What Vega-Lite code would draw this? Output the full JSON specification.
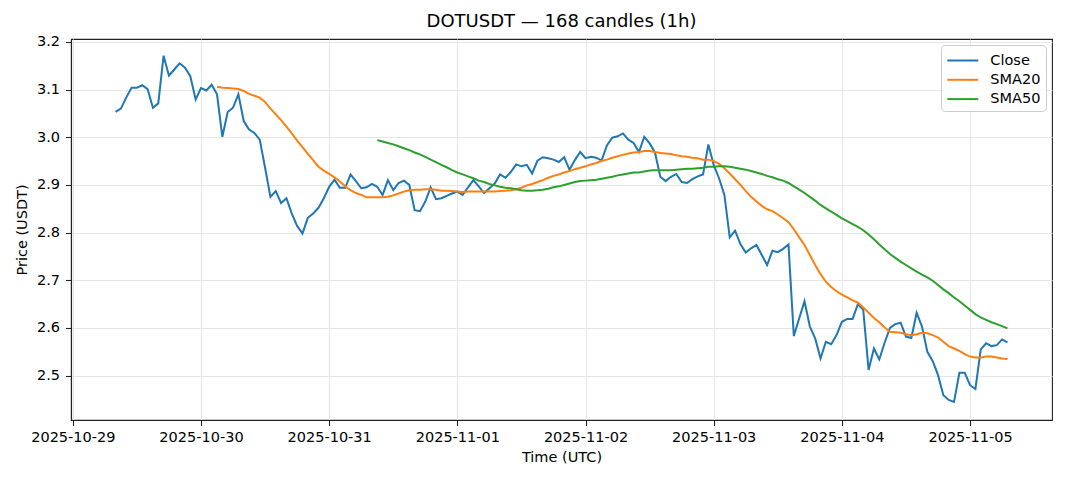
{
"$schema": "https://vega.github.io/schema/vega-lite/v6.json",
"width": 981, "height": 381,
"autosize": {"type": "none"},
"padding": {"left": 71, "top": 39, "right": 16, "bottom": 61},
"background": "white",
"title": {"text": "DOTUSDT — 168 candles (1h)", "font": "DejaVu Sans", "fontSize": 18, "fontWeight": "normal", "color": "#000", "offset": 3},
"config": {
 "view": {"stroke": "#222", "strokeWidth": 1.1},
 "axis": {"labelFont": "DejaVu Sans", "labelFontSize": 14.5, "labelColor": "#000", "titleFont": "DejaVu Sans", "titleFontSize": 14.5, "titleFontWeight": "normal", "titleColor": "#000", "tickColor": "#222", "tickSize": 5.5, "tickWidth": 1.1, "domainColor": "#222", "domainWidth": 1.1, "gridColor": "#e6e6e6", "gridWidth": 1.1, "labelPadding": 4}
},
"data": {"values": [
{"t":"2025-10-29T08:00:00Z","Close":3.053},
{"t":"2025-10-29T09:00:00Z","Close":3.060},
{"t":"2025-10-29T10:00:00Z","Close":3.083},
{"t":"2025-10-29T11:00:00Z","Close":3.104},
{"t":"2025-10-29T12:00:00Z","Close":3.104},
{"t":"2025-10-29T13:00:00Z","Close":3.109},
{"t":"2025-10-29T14:00:00Z","Close":3.101},
{"t":"2025-10-29T15:00:00Z","Close":3.062},
{"t":"2025-10-29T16:00:00Z","Close":3.071},
{"t":"2025-10-29T17:00:00Z","Close":3.171},
{"t":"2025-10-29T18:00:00Z","Close":3.129},
{"t":"2025-10-29T19:00:00Z","Close":3.142},
{"t":"2025-10-29T20:00:00Z","Close":3.155},
{"t":"2025-10-29T21:00:00Z","Close":3.146},
{"t":"2025-10-29T22:00:00Z","Close":3.128},
{"t":"2025-10-29T23:00:00Z","Close":3.079},
{"t":"2025-10-30T00:00:00Z","Close":3.103},
{"t":"2025-10-30T01:00:00Z","Close":3.098},
{"t":"2025-10-30T02:00:00Z","Close":3.110},
{"t":"2025-10-30T03:00:00Z","Close":3.090,"SMA20":3.106},
{"t":"2025-10-30T04:00:00Z","Close":3.001,"SMA20":3.104},
{"t":"2025-10-30T05:00:00Z","Close":3.053,"SMA20":3.103},
{"t":"2025-10-30T06:00:00Z","Close":3.062,"SMA20":3.102},
{"t":"2025-10-30T07:00:00Z","Close":3.090,"SMA20":3.101},
{"t":"2025-10-30T08:00:00Z","Close":3.034,"SMA20":3.097},
{"t":"2025-10-30T09:00:00Z","Close":3.016,"SMA20":3.091},
{"t":"2025-10-30T10:00:00Z","Close":3.009,"SMA20":3.087},
{"t":"2025-10-30T11:00:00Z","Close":2.995,"SMA20":3.083},
{"t":"2025-10-30T12:00:00Z","Close":2.936,"SMA20":3.074},
{"t":"2025-10-30T13:00:00Z","Close":2.875,"SMA20":3.060},
{"t":"2025-10-30T14:00:00Z","Close":2.887,"SMA20":3.048},
{"t":"2025-10-30T15:00:00Z","Close":2.862,"SMA20":3.036},
{"t":"2025-10-30T16:00:00Z","Close":2.872,"SMA20":3.022},
{"t":"2025-10-30T17:00:00Z","Close":2.840,"SMA20":3.008},
{"t":"2025-10-30T18:00:00Z","Close":2.814,"SMA20":2.993},
{"t":"2025-10-30T19:00:00Z","Close":2.798,"SMA20":2.979},
{"t":"2025-10-30T20:00:00Z","Close":2.831,"SMA20":2.965},
{"t":"2025-10-30T21:00:00Z","Close":2.840,"SMA20":2.952},
{"t":"2025-10-30T22:00:00Z","Close":2.852,"SMA20":2.938},
{"t":"2025-10-30T23:00:00Z","Close":2.872,"SMA20":2.930},
{"t":"2025-10-31T00:00:00Z","Close":2.896,"SMA20":2.923},
{"t":"2025-10-31T01:00:00Z","Close":2.911,"SMA20":2.916},
{"t":"2025-10-31T02:00:00Z","Close":2.894,"SMA20":2.907},
{"t":"2025-10-31T03:00:00Z","Close":2.894,"SMA20":2.897},
{"t":"2025-10-31T04:00:00Z","Close":2.922,"SMA20":2.889},
{"t":"2025-10-31T05:00:00Z","Close":2.908,"SMA20":2.883},
{"t":"2025-10-31T06:00:00Z","Close":2.893,"SMA20":2.879},
{"t":"2025-10-31T07:00:00Z","Close":2.895,"SMA20":2.874},
{"t":"2025-10-31T08:00:00Z","Close":2.902,"SMA20":2.874},
{"t":"2025-10-31T09:00:00Z","Close":2.896,"SMA20":2.874,"SMA50":2.994},
{"t":"2025-10-31T10:00:00Z","Close":2.879,"SMA20":2.874,"SMA50":2.991},
{"t":"2025-10-31T11:00:00Z","Close":2.910,"SMA20":2.875,"SMA50":2.988},
{"t":"2025-10-31T12:00:00Z","Close":2.889,"SMA20":2.878,"SMA50":2.985},
{"t":"2025-10-31T13:00:00Z","Close":2.904,"SMA20":2.882,"SMA50":2.981},
{"t":"2025-10-31T14:00:00Z","Close":2.909,"SMA20":2.886,"SMA50":2.977},
{"t":"2025-10-31T15:00:00Z","Close":2.900,"SMA20":2.889,"SMA50":2.973},
{"t":"2025-10-31T16:00:00Z","Close":2.847,"SMA20":2.890,"SMA50":2.968},
{"t":"2025-10-31T17:00:00Z","Close":2.845,"SMA20":2.890,"SMA50":2.964},
{"t":"2025-10-31T18:00:00Z","Close":2.865,"SMA20":2.891,"SMA50":2.959},
{"t":"2025-10-31T19:00:00Z","Close":2.895,"SMA20":2.891,"SMA50":2.953},
{"t":"2025-10-31T20:00:00Z","Close":2.870,"SMA20":2.890,"SMA50":2.948},
{"t":"2025-10-31T21:00:00Z","Close":2.872,"SMA20":2.888,"SMA50":2.942},
{"t":"2025-10-31T22:00:00Z","Close":2.877,"SMA20":2.888,"SMA50":2.937},
{"t":"2025-10-31T23:00:00Z","Close":2.882,"SMA20":2.887,"SMA50":2.931},
{"t":"2025-11-01T00:00:00Z","Close":2.886,"SMA20":2.886,"SMA50":2.926},
{"t":"2025-11-01T01:00:00Z","Close":2.879,"SMA20":2.885,"SMA50":2.922},
{"t":"2025-11-01T02:00:00Z","Close":2.895,"SMA20":2.886,"SMA50":2.918},
{"t":"2025-11-01T03:00:00Z","Close":2.910,"SMA20":2.886,"SMA50":2.914},
{"t":"2025-11-01T04:00:00Z","Close":2.897,"SMA20":2.886,"SMA50":2.909},
{"t":"2025-11-01T05:00:00Z","Close":2.883,"SMA20":2.886,"SMA50":2.906},
{"t":"2025-11-01T06:00:00Z","Close":2.893,"SMA20":2.886,"SMA50":2.902},
{"t":"2025-11-01T07:00:00Z","Close":2.903,"SMA20":2.886,"SMA50":2.899},
{"t":"2025-11-01T08:00:00Z","Close":2.922,"SMA20":2.887,"SMA50":2.896},
{"t":"2025-11-01T09:00:00Z","Close":2.915,"SMA20":2.888,"SMA50":2.894},
{"t":"2025-11-01T10:00:00Z","Close":2.927,"SMA20":2.889,"SMA50":2.893},
{"t":"2025-11-01T11:00:00Z","Close":2.943,"SMA20":2.891,"SMA50":2.891},
{"t":"2025-11-01T12:00:00Z","Close":2.939,"SMA20":2.894,"SMA50":2.889},
{"t":"2025-11-01T13:00:00Z","Close":2.942,"SMA20":2.899,"SMA50":2.888},
{"t":"2025-11-01T14:00:00Z","Close":2.924,"SMA20":2.902,"SMA50":2.888},
{"t":"2025-11-01T15:00:00Z","Close":2.951,"SMA20":2.906,"SMA50":2.889},
{"t":"2025-11-01T16:00:00Z","Close":2.958,"SMA20":2.910,"SMA50":2.890},
{"t":"2025-11-01T17:00:00Z","Close":2.956,"SMA20":2.915,"SMA50":2.892},
{"t":"2025-11-01T18:00:00Z","Close":2.953,"SMA20":2.919,"SMA50":2.895},
{"t":"2025-11-01T19:00:00Z","Close":2.948,"SMA20":2.922,"SMA50":2.897},
{"t":"2025-11-01T20:00:00Z","Close":2.958,"SMA20":2.926,"SMA50":2.900},
{"t":"2025-11-01T21:00:00Z","Close":2.932,"SMA20":2.929,"SMA50":2.903},
{"t":"2025-11-01T22:00:00Z","Close":2.952,"SMA20":2.933,"SMA50":2.906},
{"t":"2025-11-01T23:00:00Z","Close":2.969,"SMA20":2.936,"SMA50":2.908},
{"t":"2025-11-02T00:00:00Z","Close":2.956,"SMA20":2.939,"SMA50":2.909},
{"t":"2025-11-02T01:00:00Z","Close":2.959,"SMA20":2.943,"SMA50":2.910},
{"t":"2025-11-02T02:00:00Z","Close":2.957,"SMA20":2.946,"SMA50":2.911},
{"t":"2025-11-02T03:00:00Z","Close":2.951,"SMA20":2.950,"SMA50":2.913},
{"t":"2025-11-02T04:00:00Z","Close":2.983,"SMA20":2.953,"SMA50":2.915},
{"t":"2025-11-02T05:00:00Z","Close":2.999,"SMA20":2.957,"SMA50":2.917},
{"t":"2025-11-02T06:00:00Z","Close":3.002,"SMA20":2.960,"SMA50":2.920},
{"t":"2025-11-02T07:00:00Z","Close":3.008,"SMA20":2.963,"SMA50":2.922},
{"t":"2025-11-02T08:00:00Z","Close":2.995,"SMA20":2.966,"SMA50":2.924},
{"t":"2025-11-02T09:00:00Z","Close":2.988,"SMA20":2.968,"SMA50":2.926},
{"t":"2025-11-02T10:00:00Z","Close":2.969,"SMA20":2.969,"SMA50":2.926},
{"t":"2025-11-02T11:00:00Z","Close":3.001,"SMA20":2.971,"SMA50":2.928},
{"t":"2025-11-02T12:00:00Z","Close":2.987,"SMA20":2.971,"SMA50":2.930},
{"t":"2025-11-02T13:00:00Z","Close":2.968,"SMA20":2.969,"SMA50":2.931},
{"t":"2025-11-02T14:00:00Z","Close":2.917,"SMA20":2.967,"SMA50":2.931},
{"t":"2025-11-02T15:00:00Z","Close":2.908,"SMA20":2.966,"SMA50":2.931},
{"t":"2025-11-02T16:00:00Z","Close":2.917,"SMA20":2.965,"SMA50":2.931},
{"t":"2025-11-02T17:00:00Z","Close":2.923,"SMA20":2.962,"SMA50":2.932},
{"t":"2025-11-02T18:00:00Z","Close":2.906,"SMA20":2.960,"SMA50":2.933},
{"t":"2025-11-02T19:00:00Z","Close":2.904,"SMA20":2.959,"SMA50":2.934},
{"t":"2025-11-02T20:00:00Z","Close":2.912,"SMA20":2.957,"SMA50":2.934},
{"t":"2025-11-02T21:00:00Z","Close":2.918,"SMA20":2.956,"SMA50":2.935},
{"t":"2025-11-02T22:00:00Z","Close":2.922,"SMA20":2.953,"SMA50":2.936},
{"t":"2025-11-02T23:00:00Z","Close":2.985,"SMA20":2.953,"SMA50":2.938},
{"t":"2025-11-03T00:00:00Z","Close":2.942,"SMA20":2.950,"SMA50":2.938},
{"t":"2025-11-03T01:00:00Z","Close":2.914,"SMA20":2.944,"SMA50":2.939},
{"t":"2025-11-03T02:00:00Z","Close":2.879,"SMA20":2.935,"SMA50":2.939},
{"t":"2025-11-03T03:00:00Z","Close":2.790,"SMA20":2.924,"SMA50":2.938},
{"t":"2025-11-03T04:00:00Z","Close":2.804,"SMA20":2.912,"SMA50":2.936},
{"t":"2025-11-03T05:00:00Z","Close":2.776,"SMA20":2.900,"SMA50":2.934},
{"t":"2025-11-03T06:00:00Z","Close":2.758,"SMA20":2.887,"SMA50":2.932},
{"t":"2025-11-03T07:00:00Z","Close":2.767,"SMA20":2.875,"SMA50":2.929},
{"t":"2025-11-03T08:00:00Z","Close":2.774,"SMA20":2.865,"SMA50":2.926},
{"t":"2025-11-03T09:00:00Z","Close":2.753,"SMA20":2.856,"SMA50":2.923},
{"t":"2025-11-03T10:00:00Z","Close":2.732,"SMA20":2.849,"SMA50":2.919},
{"t":"2025-11-03T11:00:00Z","Close":2.762,"SMA20":2.845,"SMA50":2.916},
{"t":"2025-11-03T12:00:00Z","Close":2.759,"SMA20":2.838,"SMA50":2.912},
{"t":"2025-11-03T13:00:00Z","Close":2.766,"SMA20":2.830,"SMA50":2.909},
{"t":"2025-11-03T14:00:00Z","Close":2.775,"SMA20":2.822,"SMA50":2.904},
{"t":"2025-11-03T15:00:00Z","Close":2.583,"SMA20":2.807,"SMA50":2.897},
{"t":"2025-11-03T16:00:00Z","Close":2.620,"SMA20":2.790,"SMA50":2.890},
{"t":"2025-11-03T17:00:00Z","Close":2.656,"SMA20":2.774,"SMA50":2.883},
{"t":"2025-11-03T18:00:00Z","Close":2.603,"SMA20":2.753,"SMA50":2.875},
{"t":"2025-11-03T19:00:00Z","Close":2.578,"SMA20":2.732,"SMA50":2.867},
{"t":"2025-11-03T20:00:00Z","Close":2.536,"SMA20":2.713,"SMA50":2.858},
{"t":"2025-11-03T21:00:00Z","Close":2.571,"SMA20":2.697,"SMA50":2.851},
{"t":"2025-11-03T22:00:00Z","Close":2.566,"SMA20":2.686,"SMA50":2.844},
{"t":"2025-11-03T23:00:00Z","Close":2.585,"SMA20":2.677,"SMA50":2.837},
{"t":"2025-11-04T00:00:00Z","Close":2.613,"SMA20":2.670,"SMA50":2.830},
{"t":"2025-11-04T01:00:00Z","Close":2.619,"SMA20":2.664,"SMA50":2.824},
{"t":"2025-11-04T02:00:00Z","Close":2.619,"SMA20":2.658,"SMA50":2.818},
{"t":"2025-11-04T03:00:00Z","Close":2.650,"SMA20":2.653,"SMA50":2.812},
{"t":"2025-11-04T04:00:00Z","Close":2.638,"SMA20":2.643,"SMA50":2.805},
{"t":"2025-11-04T05:00:00Z","Close":2.512,"SMA20":2.632,"SMA50":2.796},
{"t":"2025-11-04T06:00:00Z","Close":2.557,"SMA20":2.621,"SMA50":2.786},
{"t":"2025-11-04T07:00:00Z","Close":2.534,"SMA20":2.612,"SMA50":2.775},
{"t":"2025-11-04T08:00:00Z","Close":2.569,"SMA20":2.601,"SMA50":2.765},
{"t":"2025-11-04T09:00:00Z","Close":2.600,"SMA20":2.592,"SMA50":2.755},
{"t":"2025-11-04T10:00:00Z","Close":2.608,"SMA20":2.591,"SMA50":2.747},
{"t":"2025-11-04T11:00:00Z","Close":2.611,"SMA20":2.590,"SMA50":2.739},
{"t":"2025-11-04T12:00:00Z","Close":2.582,"SMA20":2.587,"SMA50":2.732},
{"t":"2025-11-04T13:00:00Z","Close":2.579,"SMA20":2.585,"SMA50":2.725},
{"t":"2025-11-04T14:00:00Z","Close":2.632,"SMA20":2.587,"SMA50":2.718},
{"t":"2025-11-04T15:00:00Z","Close":2.603,"SMA20":2.590,"SMA50":2.712},
{"t":"2025-11-04T16:00:00Z","Close":2.550,"SMA20":2.589,"SMA50":2.706},
{"t":"2025-11-04T17:00:00Z","Close":2.531,"SMA20":2.585,"SMA50":2.699},
{"t":"2025-11-04T18:00:00Z","Close":2.501,"SMA20":2.580,"SMA50":2.690},
{"t":"2025-11-04T19:00:00Z","Close":2.459,"SMA20":2.571,"SMA50":2.681},
{"t":"2025-11-04T20:00:00Z","Close":2.449,"SMA20":2.562,"SMA50":2.673},
{"t":"2025-11-04T21:00:00Z","Close":2.445,"SMA20":2.557,"SMA50":2.664},
{"t":"2025-11-04T22:00:00Z","Close":2.506,"SMA20":2.552,"SMA50":2.656},
{"t":"2025-11-04T23:00:00Z","Close":2.506,"SMA20":2.545,"SMA50":2.647},
{"t":"2025-11-05T00:00:00Z","Close":2.480,"SMA20":2.540,"SMA50":2.638},
{"t":"2025-11-05T01:00:00Z","Close":2.472,"SMA20":2.538,"SMA50":2.629},
{"t":"2025-11-05T02:00:00Z","Close":2.555,"SMA20":2.538,"SMA50":2.622},
{"t":"2025-11-05T03:00:00Z","Close":2.568,"SMA20":2.540,"SMA50":2.617},
{"t":"2025-11-05T04:00:00Z","Close":2.562,"SMA20":2.540,"SMA50":2.612},
{"t":"2025-11-05T05:00:00Z","Close":2.564,"SMA20":2.538,"SMA50":2.608},
{"t":"2025-11-05T06:00:00Z","Close":2.576,"SMA20":2.536,"SMA50":2.604},
{"t":"2025-11-05T07:00:00Z","Close":2.570,"SMA20":2.535,"SMA50":2.599}
]},
"transform": [
 {"fold": ["Close", "SMA20", "SMA50"], "as": ["series", "value"]},
 {"filter": "isValid(datum.value)"}
],
"mark": {"type": "line", "strokeWidth": 2, "clip": true},
"encoding": {
 "x": {"field": "t", "type": "temporal",
  "scale": {"type": "utc", "domain": [{"year": 2025, "month": 10, "date": 28, "hours": 23, "minutes": 39, "seconds": 36, "utc": true}, {"year": 2025, "month": 11, "date": 5, "hours": 15, "minutes": 20, "seconds": 24, "utc": true}]},
  "axis": {"title": "Time (UTC)", "labelExpr": "utcFormat(datum.value, '%Y-%m-%d')", "labelPadding": 5, "titlePadding": 6, "labelOverlap": false, "labelFlush": false,
   "values": [
    {"year": 2025, "month": 10, "date": 29, "utc": true},
    {"year": 2025, "month": 10, "date": 30, "utc": true},
    {"year": 2025, "month": 10, "date": 31, "utc": true},
    {"year": 2025, "month": 11, "date": 1, "utc": true},
    {"year": 2025, "month": 11, "date": 2, "utc": true},
    {"year": 2025, "month": 11, "date": 3, "utc": true},
    {"year": 2025, "month": 11, "date": 4, "utc": true},
    {"year": 2025, "month": 11, "date": 5, "utc": true}]}},
 "y": {"field": "value", "type": "quantitative",
  "scale": {"domain": [2.407, 3.206], "nice": false, "zero": false},
  "axis": {"title": "Price (USDT)", "format": ".1f", "values": [2.5, 2.6, 2.7, 2.8, 2.9, 3.0, 3.1, 3.2], "labelPadding": 6, "titlePadding": 7}},
 "color": {"field": "series", "type": "nominal",
  "scale": {"domain": ["Close", "SMA20", "SMA50"], "range": ["#1f77b4", "#ff7f0e", "#2ca02c"]},
  "legend": {"title": null, "orient": "none", "legendX": 870, "legendY": 6, "symbolType": "M-1.63,0H1.63", "symbolSize": 361, "symbolStrokeWidth": 2, "labelFont": "DejaVu Sans", "labelFontSize": 14.5, "labelColor": "#000", "padding": 5, "rowPadding": 2.3, "symbolOffset": 6.3, "labelOffset": 17, "fillColor": "rgba(255,255,255,0.8)", "strokeColor": "#cccccc", "cornerRadius": 4}}
}
}
